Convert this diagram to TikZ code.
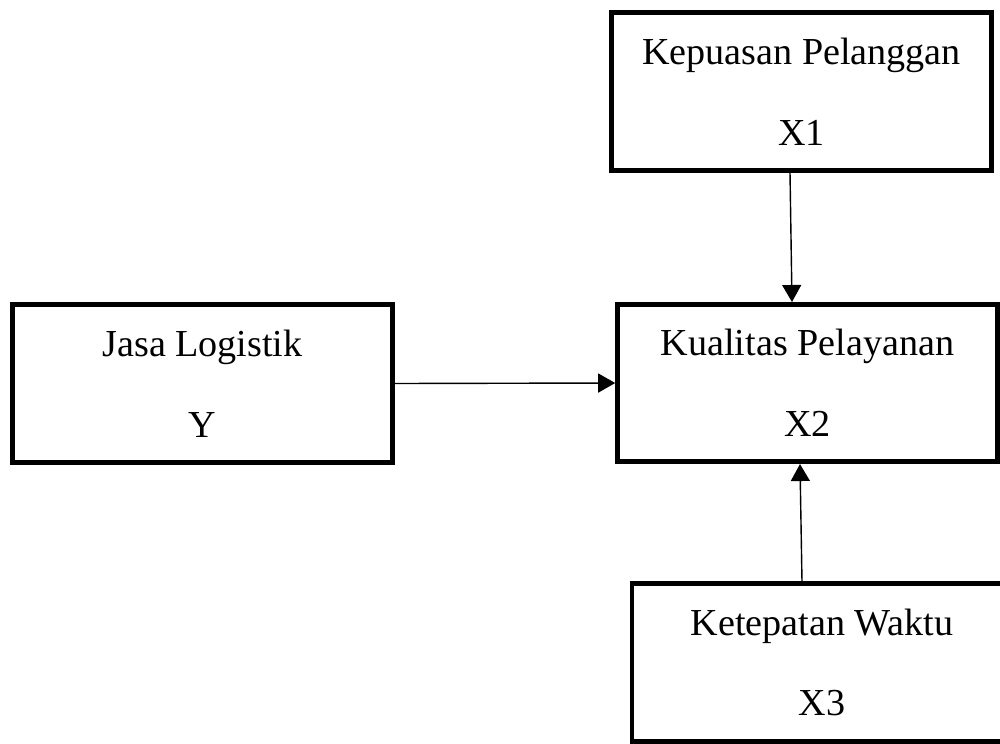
\documentclass[tikz,border=0pt]{standalone}
\usepackage{fontspec}
\setmainfont{Liberation Serif}
\usetikzlibrary{arrows.meta}

\begin{document}
\begin{tikzpicture}[
		varbox/.style={draw, line width=2.6pt, minimum width=7.6cm, minimum height=3.15cm, inner sep=0pt, align=center, font=\fontsize{21.7}{46}\selectfont},
		link/.style={line width=0.8pt, -{Triangle[length=0.34cm, width=0.38cm]}}
	]
					\def\W{20};
					\def\H{14.86};

					\useasboundingbox (0,0) rectangle (\W,-\H);

					\begin{scope}
						\node[varbox] (x1) at (16.03,-1.83) {Kepuasan Pelanggan\\X1};
						\node[varbox] (y) at (4.05,-7.67) {Jasa Logistik\\Y};
						\node[varbox] (x2) at (16.15,-7.66) {Kualitas Pelayanan\\X2};
						\node[varbox] (x3) at (16.44,-13.25) {Ketepatan Waktu\\X3};
					\end{scope}

					\begin{scope}
						\draw[link] ([xshift=-0.23cm]x1.south) -- ([xshift=-0.31cm]x2.north);
						\draw[link] (y.east) -- (x2.west);
						\draw[link] ([xshift=-0.4cm]x3.north) -- ([xshift=-0.15cm]x2.south);
					\end{scope}
				\end{tikzpicture}
\end{document}
